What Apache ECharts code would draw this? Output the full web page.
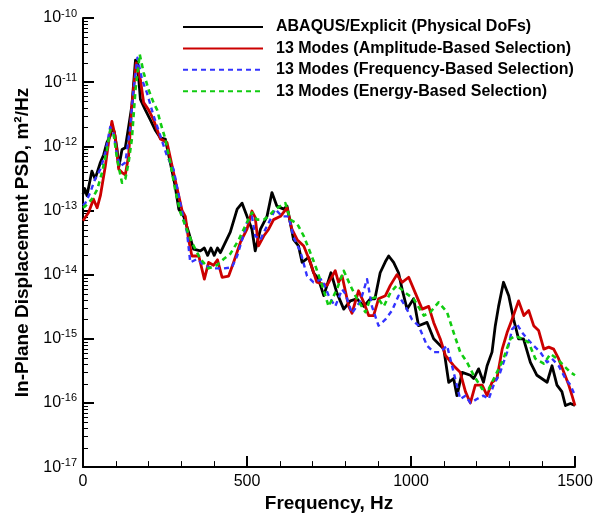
<!DOCTYPE html>
<html>
<head>
<meta charset="utf-8">
<script src="https://cdn.jsdelivr.net/npm/echarts@6/dist/echarts.min.js"></script>
<style>
  html, body { margin: 0; padding: 0; background: #fff; }
  #main { width: 607px; height: 518px; }
</style>
</head>
<body>
<div id="main"></div>
<script>
// series names (legend order)
const seriesNames = [
  'ABAQUS/Explicit (Physical DoFs)',
  '13 Modes (Amplitude-Based Selection)',
  '13 Modes (Frequency-Based Selection)',
  '13 Modes (Energy-Based Selection)'
];

const xTicks = [0, 500, 1000, 1500];

// [frequency Hz, PSD m^2/Hz]
const abaqusPsd = [
  [0, 1.8e-13], [5, 2.2e-13], [12, 1.7e-13], [27, 4.1e-13], [37, 3.1e-13], [53, 5.6e-13],
  [63, 7.4e-13], [73, 1.15e-12], [83, 1.45e-12], [88, 1.95e-12], [95, 1.7e-12], [104, 8.9e-13],
  [109, 4.7e-13], [119, 8.9e-13], [129, 9.5e-13], [139, 2.0e-12], [149, 4.3e-12], [160, 2.2e-11],
  [166, 2.0e-11], [175, 5.4e-12], [190, 3.7e-12], [205, 2.6e-12], [220, 1.8e-12], [236, 1.35e-12],
  [251, 1.3e-12], [266, 5.6e-13], [281, 2.4e-13], [292, 1.05e-13], [307, 8.1e-14], [322, 4.6e-14],
  [337, 2.5e-14], [358, 2.35e-14], [370, 2.6e-14], [380, 2.0e-14], [390, 2.6e-14], [400, 2.0e-14],
  [410, 2.6e-14], [419, 2.2e-14], [449, 4.6e-14], [470, 1.05e-13], [485, 1.3e-13], [500, 8.1e-14],
  [515, 5.1e-14], [525, 2.35e-14], [541, 5.1e-14], [561, 8.1e-14], [576, 1.9e-13], [591, 1.17e-13],
  [612, 1.05e-13], [622, 1.17e-13], [642, 3.5e-14], [657, 2.8e-14], [668, 1.55e-14], [688, 1.85e-14],
  [703, 1.07e-14], [718, 8.5e-15], [734, 4.7e-15], [756, 1.07e-14], [774, 5.2e-15], [795, 2.9e-15],
  [815, 3.9e-15], [835, 4.2e-15], [856, 3.2e-15], [876, 4.2e-15], [890, 4.2e-15], [906, 1.07e-14],
  [922, 1.6e-14], [932, 1.95e-14], [947, 1.55e-14], [962, 1.07e-14], [973, 5.9e-15], [988, 2.9e-15],
  [1008, 4.2e-15], [1023, 1.6e-15], [1049, 1.8e-15], [1069, 1.0e-15], [1100, 6.9e-16], [1115, 2.1e-16],
  [1130, 2.4e-16], [1140, 1.3e-16], [1156, 3.0e-16], [1181, 2.7e-16], [1191, 2.4e-16], [1206, 3.4e-16],
  [1221, 2.1e-16], [1232, 3.8e-16], [1247, 6.2e-16], [1257, 1.6e-15], [1267, 3.2e-15], [1282, 7.6e-15],
  [1298, 4.7e-15], [1313, 2.0e-15], [1328, 1.0e-15], [1343, 1.0e-15], [1364, 4.3e-16], [1384, 2.7e-16],
  [1415, 2.1e-16], [1430, 3.8e-16], [1445, 1.9e-16], [1460, 1.5e-16], [1471, 9.1e-17], [1486, 9.8e-17],
  [1500, 9.1e-17]
];

const amplitudePsd = [
  [0, 6.9e-14], [17, 9.3e-14], [32, 1.5e-13], [43, 1.1e-13], [53, 1.7e-13], [68, 4.9e-13],
  [78, 1.15e-12], [88, 2.45e-12], [98, 1.45e-12], [109, 4.4e-13], [119, 3.9e-13], [129, 3.6e-13],
  [139, 7.1e-13], [149, 4.3e-12], [162, 2.0e-11], [175, 1.1e-11], [185, 4.8e-12], [200, 3.7e-12],
  [215, 2.6e-12], [236, 1.3e-12], [256, 1.15e-12], [276, 3.9e-13], [292, 1.7e-13], [302, 1.0e-13],
  [312, 8.1e-14], [322, 3.5e-14], [332, 1.95e-14], [353, 1.95e-14], [370, 8.5e-15], [383, 1.55e-14],
  [398, 1.4e-14], [410, 1.7e-14], [424, 9.1e-15], [444, 9.5e-15], [459, 1.55e-14], [480, 3.2e-14],
  [500, 5.1e-14], [515, 9.8e-14], [525, 7.8e-14], [535, 2.8e-14], [551, 4.0e-14], [566, 5.1e-14],
  [581, 7.2e-14], [602, 8.1e-14], [622, 1.1e-13], [637, 5.1e-14], [653, 3.5e-14], [673, 2.8e-14],
  [693, 1.55e-14], [713, 7.6e-15], [744, 6.8e-15], [769, 1.15e-14], [779, 7.6e-15], [790, 9.5e-15],
  [810, 3.2e-15], [820, 2.5e-15], [840, 5.6e-15], [856, 3.7e-15], [871, 2.3e-15], [886, 2.3e-15],
  [901, 4.2e-15], [922, 4.7e-15], [937, 6.8e-15], [957, 1.0e-14], [973, 7.6e-15], [993, 9.1e-15],
  [1013, 5.2e-15], [1034, 2.9e-15], [1054, 3.2e-15], [1069, 1.8e-15], [1089, 1.0e-15], [1105, 5.5e-16],
  [1130, 3.8e-16], [1150, 3.0e-16], [1166, 1.5e-16], [1181, 1.0e-16], [1196, 1.9e-16], [1217, 1.9e-16],
  [1232, 1.3e-16], [1247, 2.1e-16], [1262, 2.4e-16], [1278, 6.9e-16], [1293, 1.25e-15], [1308, 2.0e-15],
  [1328, 3.9e-15], [1344, 2.3e-15], [1359, 2.75e-15], [1374, 1.6e-15], [1389, 1.35e-15], [1405, 6.9e-16],
  [1420, 7.4e-16], [1435, 6.9e-16], [1450, 4.9e-16], [1466, 3.0e-16], [1481, 1.9e-16], [1491, 1.3e-16],
  [1500, 9.1e-17]
];

const frequencyPsd = [
  [0, 1.2e-13], [7, 1.3e-13], [22, 1.9e-13], [37, 3.1e-13], [53, 4.4e-13], [68, 7.9e-13],
  [83, 2.0e-12], [93, 1.6e-12], [104, 7.1e-13], [114, 4.9e-13], [129, 5.6e-13], [144, 2.0e-12],
  [154, 7.6e-12], [166, 2.4e-11], [180, 1.1e-11], [195, 6.8e-12], [215, 3.0e-12], [236, 1.45e-12],
  [256, 7.1e-13], [276, 4.4e-13], [292, 1.7e-13], [307, 7.2e-14], [317, 4.6e-14], [327, 1.55e-14],
  [348, 1.75e-14], [368, 1.4e-14], [398, 1.25e-14], [429, 1.25e-14], [454, 1.3e-14], [470, 1.95e-14],
  [485, 3.5e-14], [500, 6.5e-14], [515, 8.1e-14], [525, 4.0e-14], [541, 3.5e-14], [556, 5.1e-14],
  [571, 7.2e-14], [586, 1.05e-13], [607, 8.1e-14], [627, 8.1e-14], [642, 3.8e-14], [663, 2.3e-14],
  [683, 9.5e-15], [703, 7.6e-15], [729, 8.5e-15], [749, 4.7e-15], [769, 3.2e-15], [790, 5.9e-15],
  [800, 5.0e-15], [820, 2.5e-15], [846, 3.9e-15], [866, 8.5e-15], [881, 3.2e-15], [901, 1.6e-15],
  [922, 2.0e-15], [942, 2.75e-15], [962, 4.7e-15], [983, 3.2e-15], [1003, 2.0e-15], [1023, 1.6e-15],
  [1049, 7.8e-16], [1069, 6.2e-16], [1089, 6.2e-16], [1110, 7.8e-16], [1130, 3.0e-16], [1150, 1.15e-16],
  [1166, 1.3e-16], [1181, 1.0e-16], [1201, 1.15e-16], [1221, 1.3e-16], [1237, 1.15e-16], [1252, 1.9e-16],
  [1272, 3.0e-16], [1293, 6.2e-16], [1308, 1.4e-15], [1323, 1.7e-15], [1339, 1.25e-15], [1354, 1.0e-15],
  [1374, 7.8e-16], [1394, 6.2e-16], [1415, 4.3e-16], [1430, 4.9e-16], [1450, 3.8e-16], [1471, 2.4e-16],
  [1486, 1.9e-16], [1500, 1.3e-16]
];

const energyPsd = [
  [0, 1.1e-13], [7, 1.17e-13], [27, 1.5e-13], [43, 2.1e-13], [58, 3.9e-13], [73, 8.9e-13],
  [83, 1.8e-12], [93, 1.6e-12], [104, 6.3e-13], [119, 2.7e-13], [129, 3.1e-13], [139, 5.6e-13],
  [149, 1.3e-12], [160, 7.6e-12], [173, 2.7e-11], [185, 1.4e-11], [200, 7.6e-12], [215, 4.8e-12],
  [226, 3.7e-12], [236, 2.35e-12], [251, 1.3e-12], [266, 5.6e-13], [281, 2.1e-13], [297, 9.3e-14],
  [312, 5.8e-14], [332, 3.2e-14], [358, 1.75e-14], [383, 1.25e-14], [408, 1.4e-14], [429, 1.75e-14],
  [449, 2.1e-14], [475, 3.5e-14], [495, 5.8e-14], [515, 9.3e-14], [530, 7.2e-14], [551, 7.2e-14],
  [566, 8.1e-14], [586, 1.05e-13], [617, 1.3e-13], [632, 7.2e-14], [653, 6.2e-14], [673, 4.0e-14],
  [693, 2.2e-14], [708, 1.4e-14], [729, 6.8e-15], [749, 3.2e-15], [774, 5.9e-15], [795, 1.15e-14],
  [815, 6.8e-15], [835, 4.2e-15], [861, 2.6e-15], [876, 4.2e-15], [896, 4.5e-15], [917, 3.2e-15],
  [937, 5.2e-15], [957, 6.8e-15], [983, 5.2e-15], [1008, 4.2e-15], [1039, 2.3e-15], [1059, 2.6e-15],
  [1084, 3.7e-15], [1110, 2.6e-15], [1130, 1.25e-15], [1150, 6.2e-16], [1171, 4.3e-16], [1191, 2.7e-16],
  [1217, 1.65e-16], [1237, 1.65e-16], [1262, 3.0e-16], [1282, 4.9e-16], [1303, 1.0e-15], [1318, 1.1e-15],
  [1339, 1.0e-15], [1359, 8.7e-16], [1379, 4.9e-16], [1405, 4.1e-16], [1425, 5.8e-16], [1445, 4.9e-16],
  [1466, 3.8e-16], [1486, 3.0e-16], [1500, 2.7e-16]
];

const FONT = 'Arial, "Liberation Sans", Helvetica, sans-serif';

var chart = echarts.init(document.getElementById('main'));

function lineSeries(name, data, color, width, dashed) {
  return {
    name: name,
    type: 'line',
    data: data,
    symbol: 'none',
    smooth: false,
    animation: false,
    lineStyle: {
      color: color,
      width: width,
      type: dashed ? [5, 4] : 'solid',
      join: 'round'
    },
    itemStyle: { color: color }
  };
}

chart.setOption({
  backgroundColor: '#fff',
  animation: false,
  textStyle: { fontFamily: FONT },
  grid: { left: 83, right: 32, top: 18, bottom: 50 },
  legend: {
    orient: 'vertical',
    left: 177,
    top: 14,
    itemWidth: 80,
    itemHeight: 16,
    itemGap: 5.4,
    data: seriesNames,
    selectedMode: false,
    itemStyle: { opacity: 0 },
    textStyle: {
      fontFamily: FONT,
      fontSize: 16,
      fontWeight: 'bold',
      color: '#000',
      padding: [0, 0, 0, 8]
    }
  },
  xAxis: {
    type: 'value',
    min: xTicks[0],
    max: xTicks[xTicks.length - 1],
    interval: 500,
    name: 'Frequency, Hz',
    nameLocation: 'middle',
    nameGap: 26,
    nameTextStyle: { fontFamily: FONT, fontSize: 19, fontWeight: 'bold', color: '#000' },
    axisLine: { show: true, lineStyle: { color: '#000', width: 2 } },
    axisTick: { show: true, inside: true, length: 11, lineStyle: { color: '#000', width: 2 } },
    minorTick: { show: true, splitNumber: 5, length: 6, lineStyle: { color: '#000', width: 1 } },
    axisLabel: {
      color: '#000', fontSize: 16, fontFamily: FONT, margin: 6,
      formatter: function (v) { return String(v); }
    },
    splitLine: { show: false }
  },
  yAxis: {
    type: 'log',
    logBase: 10,
    min: 1e-17,
    max: 1e-10,
    interval: 1,
    name: 'In-Plane Displacement PSD, m\u00B2/Hz',
    nameLocation: 'middle',
    nameGap: 47,
    nameTextStyle: { fontFamily: FONT, fontSize: 19, fontWeight: 'bold', color: '#000' },
    axisLine: { show: true, lineStyle: { color: '#000', width: 2 } },
    axisTick: { show: true, inside: true, length: 11, lineStyle: { color: '#000', width: 2 } },
    axisLabel: {
      margin: 6,
      formatter: function (v) {
        var e = Math.round(Math.log10(v));
        return '{b|10}{s|' + e + '}';
      },
      rich: {
        b: { fontSize: 16, fontFamily: FONT, color: '#000', lineHeight: 20 },
        s: { fontSize: 11, fontFamily: FONT, color: '#000', verticalAlign: 'top', lineHeight: 20 }
      }
    },
    splitLine: { show: false }
  },
  series: [
    lineSeries(seriesNames[0], abaqusPsd, '#000000', 2.8, false),
    lineSeries(seriesNames[1], amplitudePsd, '#cc0000', 2.8, false),
    lineSeries(seriesNames[2], frequencyPsd, '#3333ff', 2.4, true),
    lineSeries(seriesNames[3], energyPsd, '#11cc11', 2.6, true)
  ]
});

// log minor ticks (2..9 per decade) placed through the axis scale
function drawMinorTicks() {
  var x0 = chart.convertToPixel({ xAxisIndex: 0 }, 0);
  var els = [];
  for (var e = -17; e < -10; e++) {
    for (var m = 2; m <= 9; m++) {
      var y = chart.convertToPixel({ yAxisIndex: 0 }, m * Math.pow(10, e));
      els.push({
        type: 'line',
        shape: { x1: x0, y1: Math.round(y) + 0.5, x2: x0 + 5, y2: Math.round(y) + 0.5 },
        style: { stroke: '#000', lineWidth: 1 },
        silent: true
      });
    }
  }
  chart.setOption({ graphic: { elements: els } });
}
drawMinorTicks();
</script>
</body>
</html>
